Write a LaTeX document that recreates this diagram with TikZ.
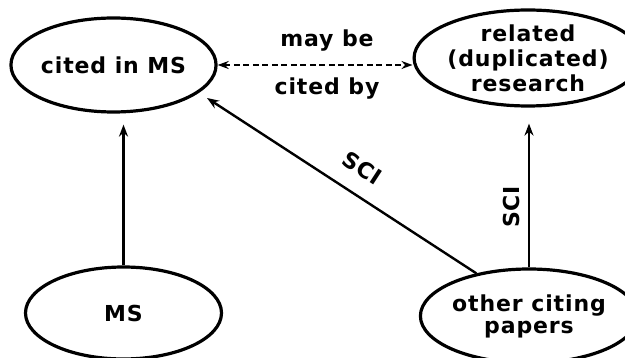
\documentclass[tikz,border=0pt]{standalone}
\usepackage{fontspec}
\setmainfont{DejaVu Sans}[LetterSpace=4]
\usetikzlibrary{shapes.geometric,arrows.meta,calc}
\begin{document}
\begin{tikzpicture}[x=1pt,y=-1pt,
  oval/.style={ellipse, draw, line width=3.2pt, inner sep=0pt, align=center,
    font=\bfseries\fontsize{22}{24}\selectfont},
  lbl/.style={inner sep=0pt, font=\bfseries\fontsize{22}{24}\selectfont},
  arr/.style={line width=2.4pt, -{Stealth[length=12pt,width=9pt]}},
  darr/.style={line width=2.2pt, dash pattern=on 6pt off 3.5pt,
    {Stealth[length=11pt,width=8pt]}-{Stealth[length=11pt,width=8pt]}}]
\useasboundingbox (0,0) rectangle (625,358);
\clip (0,0) rectangle (625,358);
\node[oval, minimum width=196pt, minimum height=94pt] (cited) at (113.5,65) {cited in MS};
\node[oval, minimum width=188pt, minimum height=96pt,
  font=\bfseries\fontsize{22}{25}\selectfont] (related) at (528,58) {related\\(duplicated)\\research};
\node[oval, minimum width=196pt, minimum height=92pt] (ms) at (123.5,313) {MS};
\node[oval, minimum width=192pt, minimum height=94pt,
  font=\bfseries\fontsize{22}{22}\selectfont] (other) at (529,316) {other citing\\papers};
\coordinate (sciend) at (207,98);
\draw[arr] (ms.north) -- ($(ms.north |- cited.south)+(0,11)$);
\draw[arr] (other.north) -- ($(other.north |- related.south)+(0,16)$);
\draw[arr] (other.141) -- (sciend);
\draw[darr] (cited.east) -- (cited.east -| related.west);
\node[lbl] (maybe) at (327,41) {may be};
\node[lbl] (citedby) at (327,89) {cited by};
\node[lbl, rotate=-33] (sci1) at (362,168) {SCI};
\node[lbl, rotate=90] (sci2) at (511,207) {SCI};
\end{tikzpicture}
\end{document}
